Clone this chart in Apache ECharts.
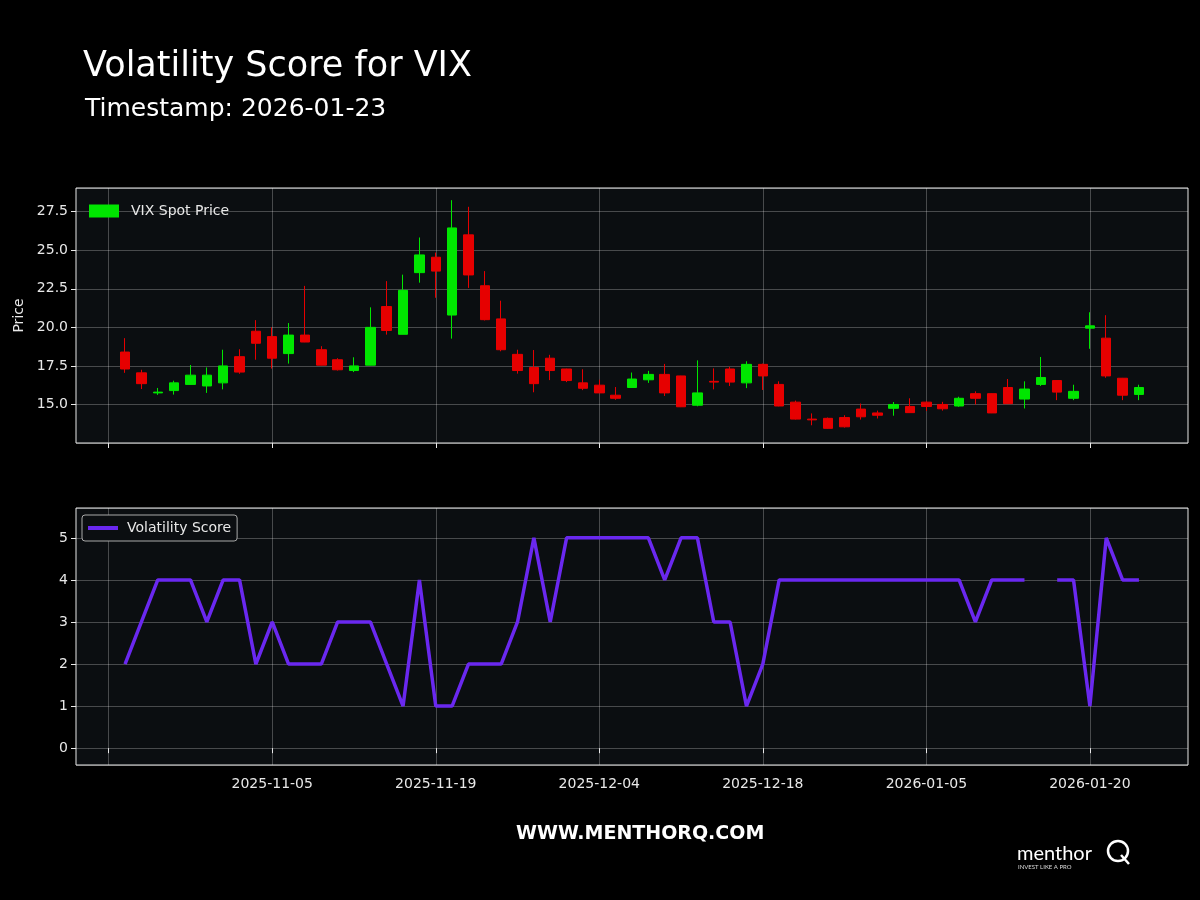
<!DOCTYPE html>
<html><head><meta charset="utf-8">
<script src="https://cdn.jsdelivr.net/npm/echarts@6/dist/echarts.min.js"></script>
<style>html,body{margin:0;background:#000}#c{width:1200px;height:900px}</style>
</head><body><div id="c"></div>
<script>
// trading-day index positions -2..66 (index 0 = 2025-10-22)
const firstIndex = -2, lastIndex = 66;
const tickLabels = {10:'2025-11-05',20:'2025-11-19',30:'2025-12-04',40:'2025-12-18',50:'2026-01-05',60:'2026-01-20'};
// candles for indices 1..63: [open, close, low, high]
const opens  = [18.4,17.05,15.75,15.9,16.3,16.2,16.4,18.1,19.75,19.4,18.3,19.5,18.55,17.9,17.2,17.55,21.35,19.55,23.55,24.55,20.8,26.0,22.7,20.55,18.25,17.4,18.0,17.3,16.4,16.25,15.6,16.1,16.6,16.95,16.85,14.95,16.5,17.3,16.4,17.6,16.3,15.15,14.05,14.1,14.15,14.7,14.45,14.75,14.87,15.15,15.0,14.9,15.7,15.7,16.1,15.35,16.3,16.55,15.4,19.95,19.3,16.7,15.65];
const closes = [17.3,16.35,15.8,16.4,16.9,16.9,17.5,17.1,18.97,18.0,19.5,19.05,17.55,17.25,17.5,20.0,19.8,22.4,24.7,23.65,26.45,23.4,20.5,18.55,17.2,16.35,17.2,16.55,16.05,15.75,15.4,16.65,16.95,15.75,14.85,15.75,16.45,16.45,17.6,16.85,14.9,14.05,14.0,13.45,13.55,14.2,14.3,15.0,14.47,14.87,14.72,15.4,15.4,14.45,15.05,16.0,16.75,15.8,15.85,20.1,16.85,15.6,16.1];
const lows   = [17.05,16.0,15.62,15.64,16.28,15.75,15.98,16.99,17.9,17.33,17.65,19.04,17.56,17.2,17.1,17.56,19.53,19.55,22.9,21.92,19.27,22.56,20.45,18.45,17.0,15.79,16.58,16.45,15.93,15.75,15.3,16.11,16.4,15.55,14.83,14.88,15.98,16.2,16.06,15.94,14.88,14.02,13.65,13.42,13.5,14.02,14.09,14.27,14.45,14.58,14.6,14.85,15.0,14.44,15.03,14.74,16.2,15.28,15.28,18.61,16.73,15.28,15.28];
const highs  = [19.3,17.25,16.07,16.54,17.56,17.4,18.55,18.58,20.47,20.0,20.28,22.69,18.78,18.0,18.06,21.3,23.0,23.42,25.83,24.85,28.25,27.82,23.65,21.73,18.55,18.53,18.22,17.32,17.28,16.6,16.13,17.07,17.18,17.63,16.86,17.86,17.34,17.44,17.8,17.65,16.5,15.25,14.42,14.15,14.3,15.06,14.6,15.16,15.4,15.2,15.17,15.5,15.85,15.72,16.65,16.5,18.08,16.56,16.28,20.98,20.79,16.72,16.28];
// volatility score for indices 1..63 (null = missing)
const scores = [2,3,4,4,4,3,4,4,2,3,2,2,2,3,3,3,2,1,4,1,1,2,2,2,3,5,3,5,5,5,5,5,5,4,5,5,3,3,1,2,4,4,4,4,4,4,4,4,4,4,4,4,3,4,4,4,null,4,4,1,5,4,4];

const cats = [];
for (let i = firstIndex; i <= lastIndex; i++) cats.push(String(i));
const candle = cats.map(c => { const i = +c; if (i >= 1 && i <= opens.length) { const k = i - 1; return [opens[k], closes[k], lows[k], highs[k]]; } return '-'; });
const score = cats.map(c => { const i = +c; if (i >= 1 && i <= scores.length) { const v = scores[i - 1]; return v === null ? '-' : v; } return '-'; });

const isTick = (idx) => { const i = idx + firstIndex; return i >= 0 && i <= 60 && i % 10 === 0; };
const txt = '#e8e8e8', font = 'DejaVu Sans';
const xBase = (gi, showLabels) => ({
  type: 'category', gridIndex: gi, data: cats, boundaryGap: false,
  axisLine: { show: false },
  axisTick: { show: true, length: 5, interval: (idx) => isTick(idx), lineStyle: { color: txt } },
  axisLabel: { show: showLabels, interval: (idx) => isTick(idx), color: txt, fontSize: 14, fontFamily: font, margin: 12,
    formatter: (v) => tickLabels[+v] || '' },
  splitLine: { show: true, interval: (idx) => isTick(idx), lineStyle: { color: 'rgba(255,255,255,0.25)' } }
});
const chart = echarts.init(document.getElementById('c'));
chart.setOption({
  backgroundColor: '#000',
  animation: false,
  title: [
    { text: 'Volatility Score for VIX', left: 78, top: 44, textStyle: { color: '#fff', fontSize: 35, fontWeight: 'normal', fontFamily: font } },
    { text: 'Timestamp: 2026-01-23', left: 80, top: 92, textStyle: { color: '#fff', fontSize: 25, fontWeight: 'normal', fontFamily: font } },
    { text: 'WWW.MENTHORQ.COM', left: 511, top: 820, textStyle: { color: '#fff', fontSize: 19, fontWeight: 'bold', fontFamily: font } },
    { text: 'menthor', left: 1012, top: 839, textStyle: { color: '#fff', fontSize: 20, fontWeight: 'normal', fontFamily: 'Lato' } },
    { text: 'INVEST LIKE A PRO', left: 1013, top: 859, textStyle: { color: '#ddd', fontSize: 6, fontWeight: 'normal', fontFamily: 'Lato' } }
  ],
  graphic: [
    { type: 'circle', shape: { cx: 1118, cy: 851, r: 10 }, style: { fill: 'none', stroke: '#fff', lineWidth: 2.5 } },
    { type: 'line', shape: { x1: 1121, y1: 855, x2: 1129, y2: 864 }, style: { stroke: '#fff', lineWidth: 2.5 } }
  ],
  grid: [
    { left: 76, right: 12, top: 188, height: 255, show: true, backgroundColor: '#0b0e11', borderColor: '#e8e8e8', borderWidth: 1 },
    { left: 76, right: 12, top: 508, height: 257, show: true, backgroundColor: '#0b0e11', borderColor: '#e8e8e8', borderWidth: 1 }
  ],
  legend: [
    { top: 199, left: 84, data: [{ name: 'VIX Spot Price', icon: 'rect', itemStyle: { color: '#00e600' } }], itemWidth: 28, itemHeight: 11, itemGap: 14,
      textStyle: { color: txt, fontSize: 14, fontFamily: font, padding: [0, 0, 0, 8] } },
    { top: 515, left: 82, data: [{ name: 'Volatility Score', icon: 'rect', itemStyle: { color: '#6a28f0' } }], itemWidth: 30, itemHeight: 4, padding: [6, 6, 6, 6],
      borderColor: '#aaa', borderWidth: 1, borderRadius: 3, backgroundColor: '#0b0e11',
      textStyle: { color: txt, fontSize: 14, fontFamily: font, padding: [0, 0, 0, 4] } }
  ],
  xAxis: [xBase(0, false), xBase(1, true)],
  yAxis: [
    { type: 'value', gridIndex: 0, min: 12.5, max: 29.04, interval: 2.5, name: 'Price', nameLocation: 'middle', nameGap: 50,
      nameTextStyle: { color: txt, fontSize: 14, fontFamily: font },
      axisLine: { show: false }, axisTick: { show: true, length: 5, lineStyle: { color: txt } },
      axisLabel: { color: txt, fontSize: 14, fontFamily: font, showMinLabel: false, showMaxLabel: false, formatter: v => v.toFixed(1) },
      splitLine: { lineStyle: { color: 'rgba(255,255,255,0.25)' } } },
    { type: 'value', gridIndex: 1, min: -0.4, max: 5.71, splitNumber: 6,
      axisLine: { show: false }, axisTick: { show: true, length: 5, lineStyle: { color: txt } },
      axisLabel: { color: txt, fontSize: 14, fontFamily: font, showMinLabel: false, showMaxLabel: false, formatter: v => Number.isInteger(v) ? String(v) : '' },
      splitLine: { lineStyle: { color: 'rgba(255,255,255,0.25)' } } }
  ],
  series: [
    { name: 'VIX Spot Price', type: 'candlestick', xAxisIndex: 0, yAxisIndex: 0, data: candle, barWidth: 10,
      itemStyle: { color: '#00e600', color0: '#e60000', borderColor: '#00e600', borderColor0: '#e60000', borderWidth: 1 } },
    { name: 'Volatility Score', type: 'line', xAxisIndex: 1, yAxisIndex: 1, data: score, showSymbol: false, connectNulls: false,
      lineStyle: { color: '#6a28f0', width: 3.5 }, itemStyle: { color: '#6a28f0' } }
  ]
});
</script></body></html>
